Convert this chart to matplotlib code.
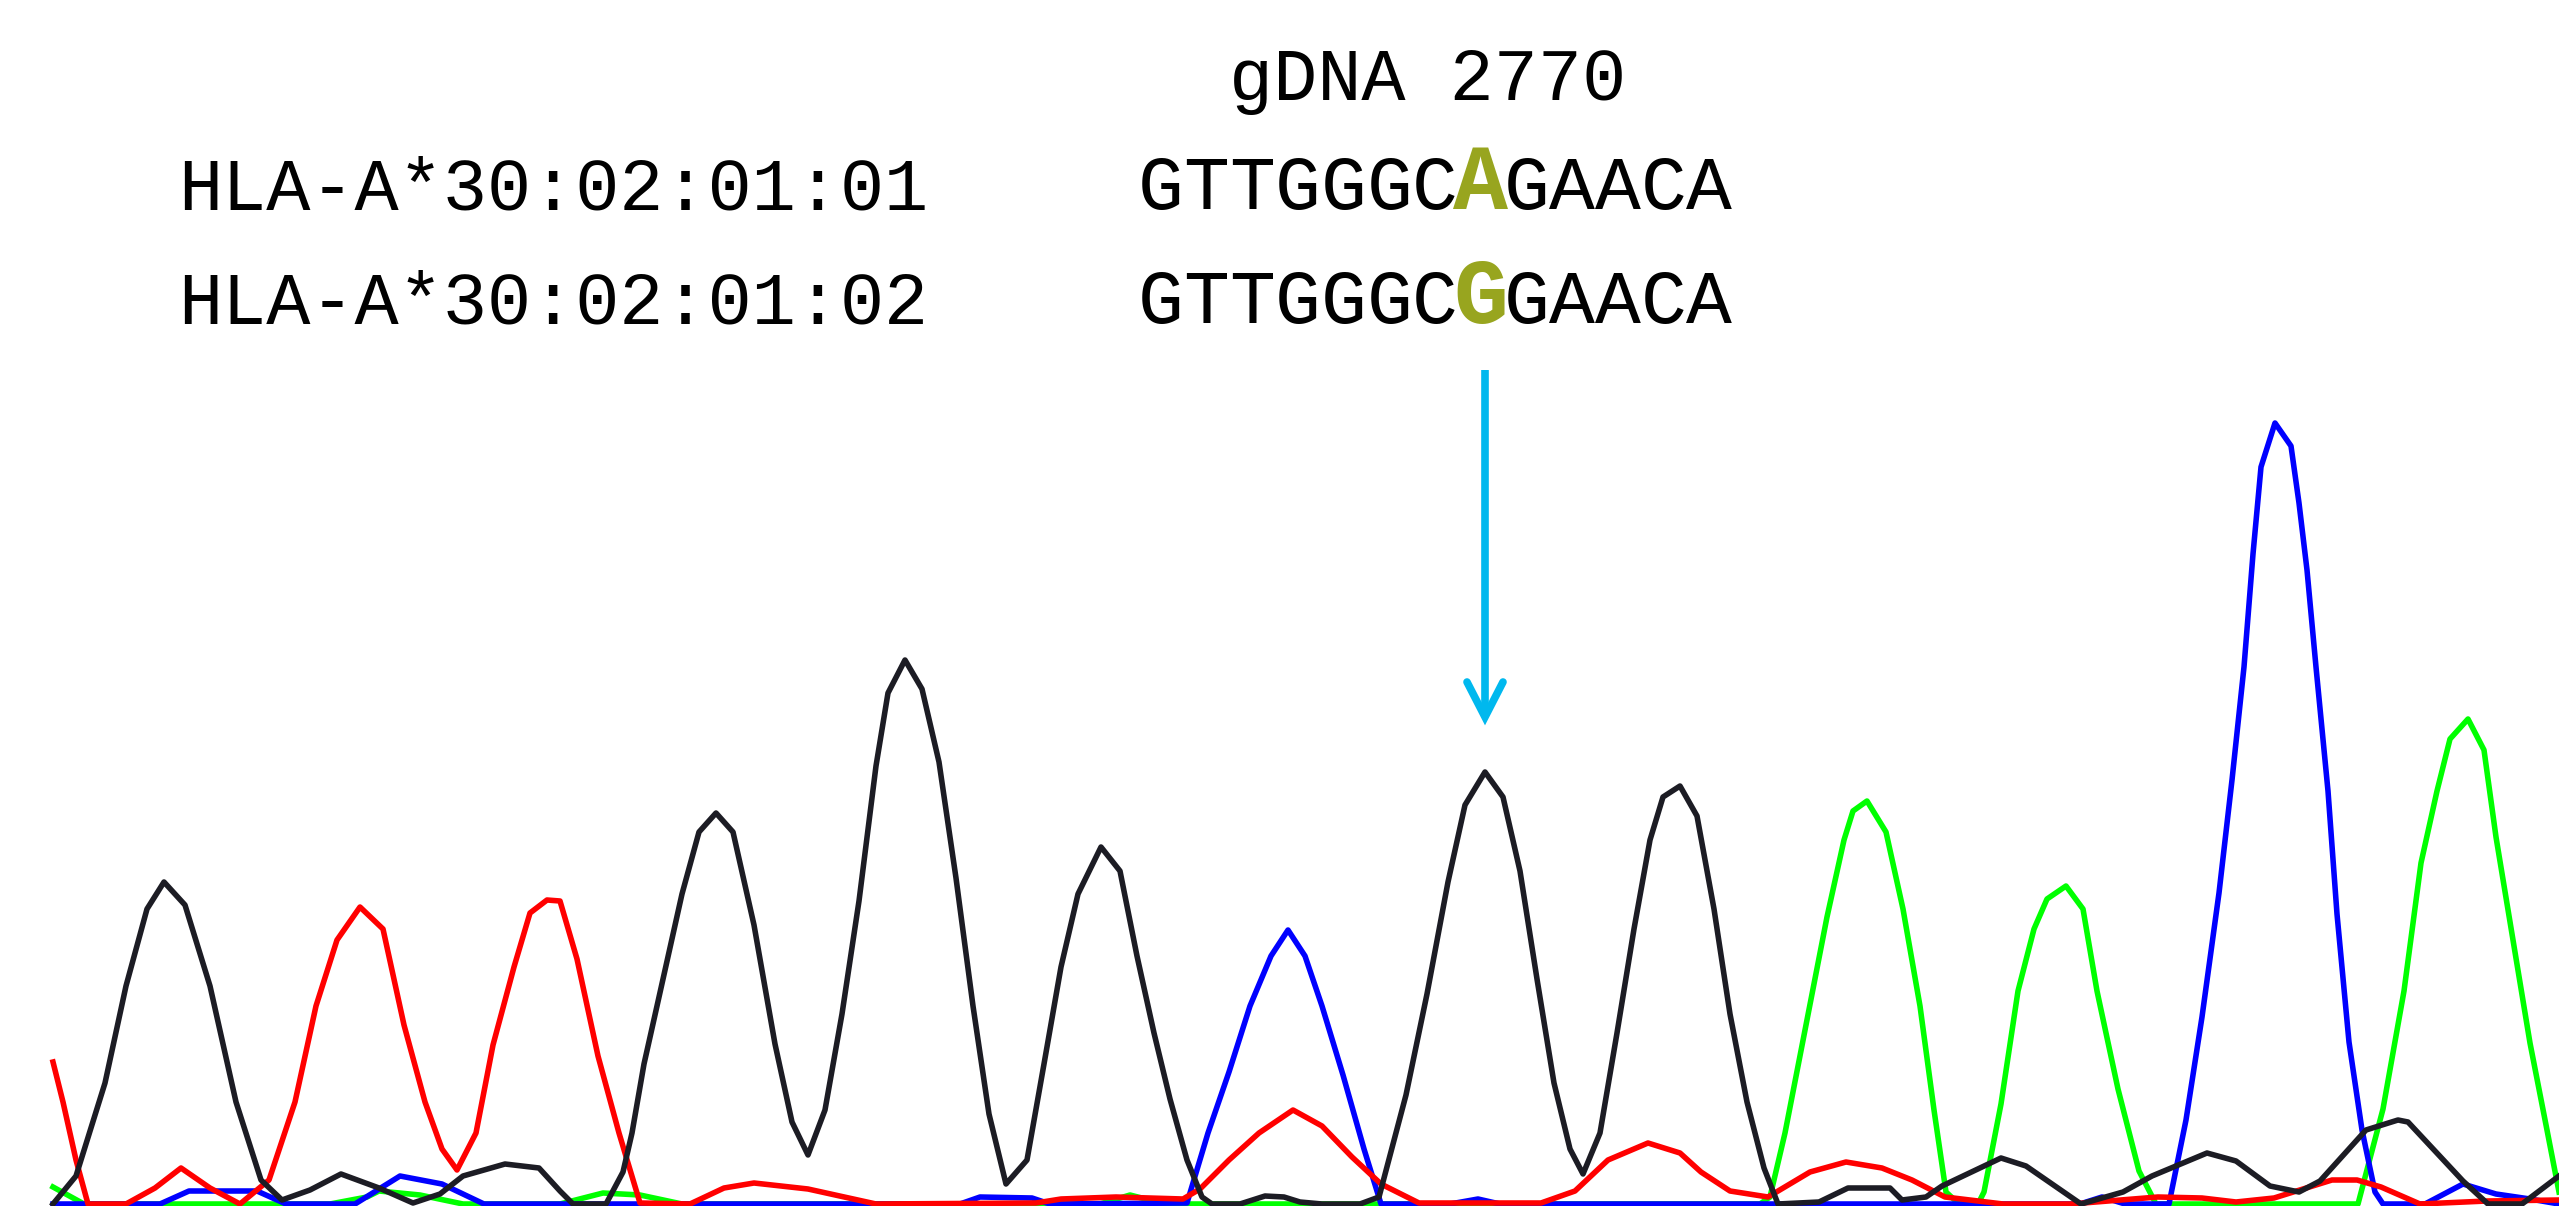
import matplotlib.pyplot as plt

# Chromatogram traces: scan position and signal height
black_x = [53, 76, 105, 126, 147, 164, 185, 210, 236, 261, 282, 310, 341, 379, 413,
           440, 463, 505, 539, 560, 573, 606, 623, 632, 644, 657, 682, 699, 716, 733,
           754, 775, 792, 808, 825, 842, 859, 876, 888, 905, 922, 939, 956, 973, 989,
           1006, 1027, 1044, 1061, 1078, 1101, 1120, 1137, 1154, 1170, 1187, 1202, 1212,
           1240, 1265, 1284, 1300, 1322, 1360, 1379, 1406, 1427, 1448, 1465, 1485, 1503,
           1520, 1537, 1554, 1570, 1583, 1600, 1617, 1634, 1650, 1663, 1680, 1697, 1714,
           1730, 1747, 1764, 1778, 1819, 1848, 1890, 1902, 1926, 1942, 2001, 2026, 2081,
           2123, 2152, 2207, 2236, 2270, 2299, 2320, 2366, 2398, 2408, 2463, 2488, 2522,
           2559]
black_y = [0, 28, 121, 218, 295, 322, 299, 218, 102, 24, 4, 14, 30, 16, 1,
           10, 28, 40, 36, 13, 0, 0, 32, 71, 140, 198, 310, 372, 391, 372,
           279, 160, 82, 49, 94, 190, 303, 438, 511, 544, 515, 442, 326, 198, 90,
           20, 44, 140, 237, 310, 357, 333, 248, 171, 105, 44, 7, 0,
           0, 8, 7, 2, 0, 0, 7, 109, 210, 322, 399, 432, 407,
           333, 225, 121, 55, 30, 71, 171, 275, 364, 407, 418, 388, 295,
           190, 102, 36, 0, 2, 16, 16, 4, 7, 18, 46, 38, 0,
           12, 28, 51, 43, 18, 12, 23, 74, 84, 82, 23, 0, 0,
           28]

red_x = [53, 63, 76, 88, 126, 155, 181, 210, 240, 269, 295, 316, 337, 360, 383, 404,
         425, 442, 457, 476, 493, 514, 530, 547, 560, 577, 598, 619, 640, 690, 724,
         754, 808, 876, 1036, 1061, 1116, 1183, 1200, 1229, 1259, 1293, 1322, 1352,
         1381, 1419, 1541, 1575, 1608, 1648, 1680, 1701, 1730, 1768, 1810, 1846,
         1882, 1912, 1945, 2003, 2071, 2158, 2202, 2236, 2274, 2332, 2357, 2381,
         2420, 2487, 2559]
red_y = [142, 102, 44, 0, 0, 16, 36, 16, 0, 24, 102, 198, 264, 297, 275, 179,
         102, 55, 34, 71, 159, 237, 291, 304, 303, 245, 148, 71, 1, 0, 16,
         21, 15, 0, 1, 5, 7, 5, 15, 44, 71, 94, 78, 47,
         20, 1, 1, 13, 44, 61, 51, 32, 13, 7, 32, 42,
         36, 24, 7, 0, 0, 7, 6, 2, 6, 24, 24, 17,
         0, 3, 4]

blue_x = [53, 160, 189, 257, 286, 355, 400, 442, 484, 960, 980, 1032, 1050, 1187,
          1208, 1229, 1250, 1271, 1288, 1305, 1322, 1343, 1364, 1381, 1450, 1478,
          1500, 2080, 2102, 2125, 2169, 2186, 2202, 2219, 2232, 2244, 2253, 2261,
          2275, 2291, 2299, 2307, 2316, 2328, 2337, 2349, 2362, 2375, 2383, 2425,
          2463, 2496, 2530, 2559]
blue_y = [0, 0, 13, 13, 0, 0, 28, 20, 0, 0, 7, 6, 0, 1,
          71, 132, 198, 248, 274, 248, 198, 129, 55, 0, 0, 5,
          0, 0, 7, 0, 0, 84, 187, 311, 424, 537, 650, 737,
          781, 758, 701, 634, 537, 413, 290, 162, 74, 12, 0, 0,
          20, 10, 5, 0]

green_x = [53, 84, 330, 367, 379, 420, 463, 560, 603, 640, 682, 1100, 1130, 1165,
           1760, 1770, 1785, 1806, 1827, 1844, 1853, 1867, 1886, 1903, 1920, 1934,
           1946, 1959, 1978, 1984, 2001, 2018, 2034, 2047, 2066, 2083, 2097, 2118,
           2139, 2156, 2358, 2383, 2404, 2421, 2437, 2450, 2468, 2484, 2496, 2513,
           2530, 2547, 2559]
green_y = [17, 0, 0, 7, 13, 9, 0, 0, 11, 9, 0, 0, 9, 0,
           0, 7, 71, 179, 287, 364, 393, 403, 372, 295, 198, 94,
           12, 0, 0, 12, 100, 213, 275, 305, 318, 295, 213, 115,
           33, 0, 0, 95, 213, 341, 413, 465, 485, 454, 367, 264,
           161, 74, 12]

allele_names = ["HLA-A*30:02:01:01", "HLA-A*30:02:01:02"]
allele_seqs = ["GTTGGGCAGAACA", "GTTGGGCGGAACA"]
snp_index = 7
position_label = "gDNA 2770"

W, H = 2559, 1206
BASE = 1204  # image row of the trace baseline

fig = plt.figure(figsize=(W / 100, H / 100), dpi=100)
ax = fig.add_axes([0, 0, 1, 1])
ax.set_xlim(0, W)
ax.set_ylim(BASE - H, BASE)
ax.axis("off")

lw = 4
ax.plot(green_x, green_y, color="#00ff00", lw=lw, solid_joinstyle="round")
ax.plot(blue_x, blue_y, color="#0000ff", lw=lw, solid_joinstyle="round")
ax.plot(red_x, red_y, color="#ff0000", lw=lw, solid_joinstyle="round")
ax.plot(black_x, black_y, color="#1c1c24", lw=lw, solid_joinstyle="round")

mono = "Liberation Mono"
olive = "#98a51f"

# header and allele names
ax.text(1229, BASE - 100, position_label, family=mono, fontsize=53,
        ha="left", va="baseline")
rows = [209, 323]
for name, row in zip(allele_names, rows):
    ax.text(178, BASE - row, name, family=mono, fontsize=53,
            ha="left", va="baseline")

# sequences, one letter per cell so the SNP can be bold and coloured
x0, step = 1138, 45.7
for seq, row in zip(allele_seqs, rows):
    for i, ch in enumerate(seq):
        xc = x0 + (i + 0.5) * step
        if i == snp_index:
            ax.text(xc, BASE - row, ch, family=mono, fontsize=66, weight="bold",
                    color=olive, ha="center", va="baseline")
        else:
            ax.text(xc, BASE - row, ch, family=mono, fontsize=55,
                    ha="center", va="baseline")

# arrow pointing at the SNP peak
arrow_c = "#00b8ee"
ax.plot([1485, 1485], [BASE - 370, BASE - 712], color=arrow_c, lw=5.5,
        solid_capstyle="butt")
ax.plot([1467, 1485, 1503], [BASE - 682, BASE - 717, BASE - 682],
        color=arrow_c, lw=5.5, solid_capstyle="round", solid_joinstyle="miter")

fig.savefig("out.png", dpi=100)
